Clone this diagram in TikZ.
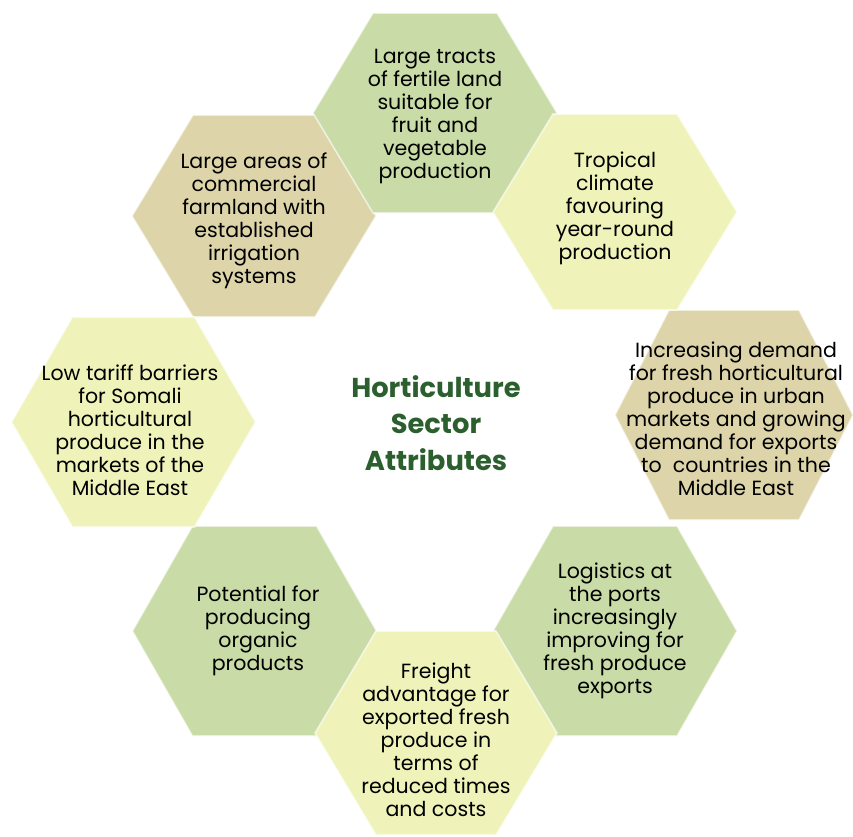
\documentclass[tikz,border=0pt]{standalone}
\usepackage{fontspec}
\setmainfont{Poppins}
\definecolor{hgreen}{HTML}{C9DBA6}
\definecolor{hyellow}{HTML}{EFF3B9}
\definecolor{htan}{HTML}{DDD5A9}
\definecolor{htitle}{HTML}{2B5F2E}
\newcommand\myhexa[6]{% cx, cy, half-width, half-top, half-height, colour
  \fill[#6, draw=white, draw opacity=0.6, line width=1.2pt]
    ({#1-#3},#2) -- ({#1-#4},{#2-#5}) -- ({#1+#4},{#2-#5}) --
    ({#1+#3},#2) -- ({#1+#4},{#2+#5}) -- ({#1-#4},{#2+#5}) -- cycle;}
\tikzset{
  hextext/.style={align=center, font=\fontsize{15.4}{17.25}\selectfont, text=black, inner sep=0pt},
  titletext/.style={align=center, font=\fontsize{20.5}{27.5}\selectfont\bfseries, text=htitle, inner sep=0pt}
}
\begin{document}
\begin{tikzpicture}[x=0.75pt,y=-0.75pt]
\useasboundingbox (0,0) rectangle (853,836);
% tan hexagons
\myhexa{254}{216}{122}{61}{101}{htan}
\myhexa{734}{415}{119}{65}{105}{htan}
% green hexagons
\myhexa{435}{113}{122}{62}{100}{hgreen}
\myhexa{615}{631}{122}{62}{105}{hgreen}
\myhexa{254.5}{631}{122}{62}{105}{hgreen}
% yellow hexagons
\myhexa{615}{212}{122}{62}{98}{hyellow}
\myhexa{133.5}{422}{122}{61}{105}{hyellow}
\myhexa{436}{733}{121}{60}{102}{hyellow}

\node[hextext] (tracts) at (435,117) {Large tracts\\of fertile land\\suitable for\\fruit and\\vegetable\\production};
\node[hextext] (tropical) at (615,208) {Tropical\\climate\\favouring\\year-round\\production};
\node[hextext] (demand) at (736,419) {Increasing demand\\for fresh horticultural\\produce in urban\\markets and growing\\demand for exports\\to\ \ countries in the\\Middle East};
\node[hextext] (logistics) at (615,631) {Logistics at\\the ports\\increasingly\\improving for\\fresh produce\\exports};
\node[hextext] (freight) at (436,740) {Freight\\advantage for\\exported fresh\\produce in\\terms of\\reduced times\\and costs};
\node[hextext] (organic) at (258,631) {Potential for\\producing\\organic\\products};
\node[hextext] (tariff) at (130,430) {Low tariff barriers\\for Somali\\horticultural\\produce in the\\markets of the\\Middle East};
\node[hextext] (farmland) at (254,221) {Large areas of\\commercial\\farmland with\\established\\irrigation\\systems};
\node[titletext] (title) at (436,423) {Horticulture\\Sector\\Attributes};
\end{tikzpicture}
\end{document}
